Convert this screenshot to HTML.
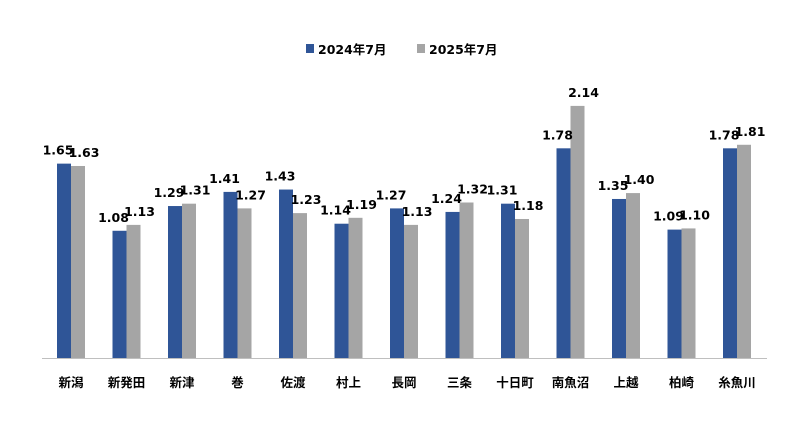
<!DOCTYPE html>
<html><head><meta charset="utf-8"><style>body{margin:0;background:#fff}svg{display:block}text{font-family:"DejaVu Sans","Noto Sans CJK JP",sans-serif;font-weight:bold;fill:#000}</style></head>
<body><svg id="s" width="800" height="443" xmlns="http://www.w3.org/2000/svg">
<rect x="0" y="0" width="800" height="443" fill="#fff"/>
<rect x="306" y="44" width="8" height="9" fill="#2f5597"/>
<text x="318" y="54" font-size="12.5">2024年7月</text>
<rect x="417" y="44" width="8" height="9" fill="#a5a5a5"/>
<text x="429" y="54" font-size="12.5">2025年7月</text>
<line x1="42" y1="358.5" x2="767" y2="358.5" stroke="#bfbfbf" stroke-width="1"/>
<g id="g"></g>
</svg>
<script>
var cats=["新潟","新発田","新津","巻","佐渡","村上","長岡","三条","十日町","南魚沼","上越","柏崎","糸魚川"];
var a=[1.65,1.08,1.29,1.41,1.43,1.14,1.27,1.24,1.31,1.78,1.35,1.09,1.78];
var b=[1.63,1.13,1.31,1.27,1.23,1.19,1.13,1.32,1.18,2.14,1.40,1.10,1.81];
var h="",base=358,sc=117.8,w=14;
for(var i=0;i<13;i++){var x=57+i*55.5;
var ya=base-a[i]*sc,yb=base-b[i]*sc;
h+='<rect x="'+x+'" y="'+ya+'" width="'+w+'" height="'+(base-ya)+'" fill="#2f5597"/>';
h+='<rect x="'+(x+w)+'" y="'+yb+'" width="'+w+'" height="'+(base-yb)+'" fill="#a5a5a5"/>';
h+='<text x="'+(x+w/2-6)+'" y="'+(ya-9)+'" font-size="12.5" text-anchor="middle">'+a[i].toFixed(2)+'</text>';
h+='<text x="'+(x+w*1.5+6)+'" y="'+(yb-9)+'" font-size="12.5" text-anchor="middle">'+b[i].toFixed(2)+'</text>';
h+='<text x="'+(x+w)+'" y="387" font-size="12.5" text-anchor="middle">'+cats[i]+'</text>';}
document.getElementById("g").innerHTML=h;
</script></body></html>
